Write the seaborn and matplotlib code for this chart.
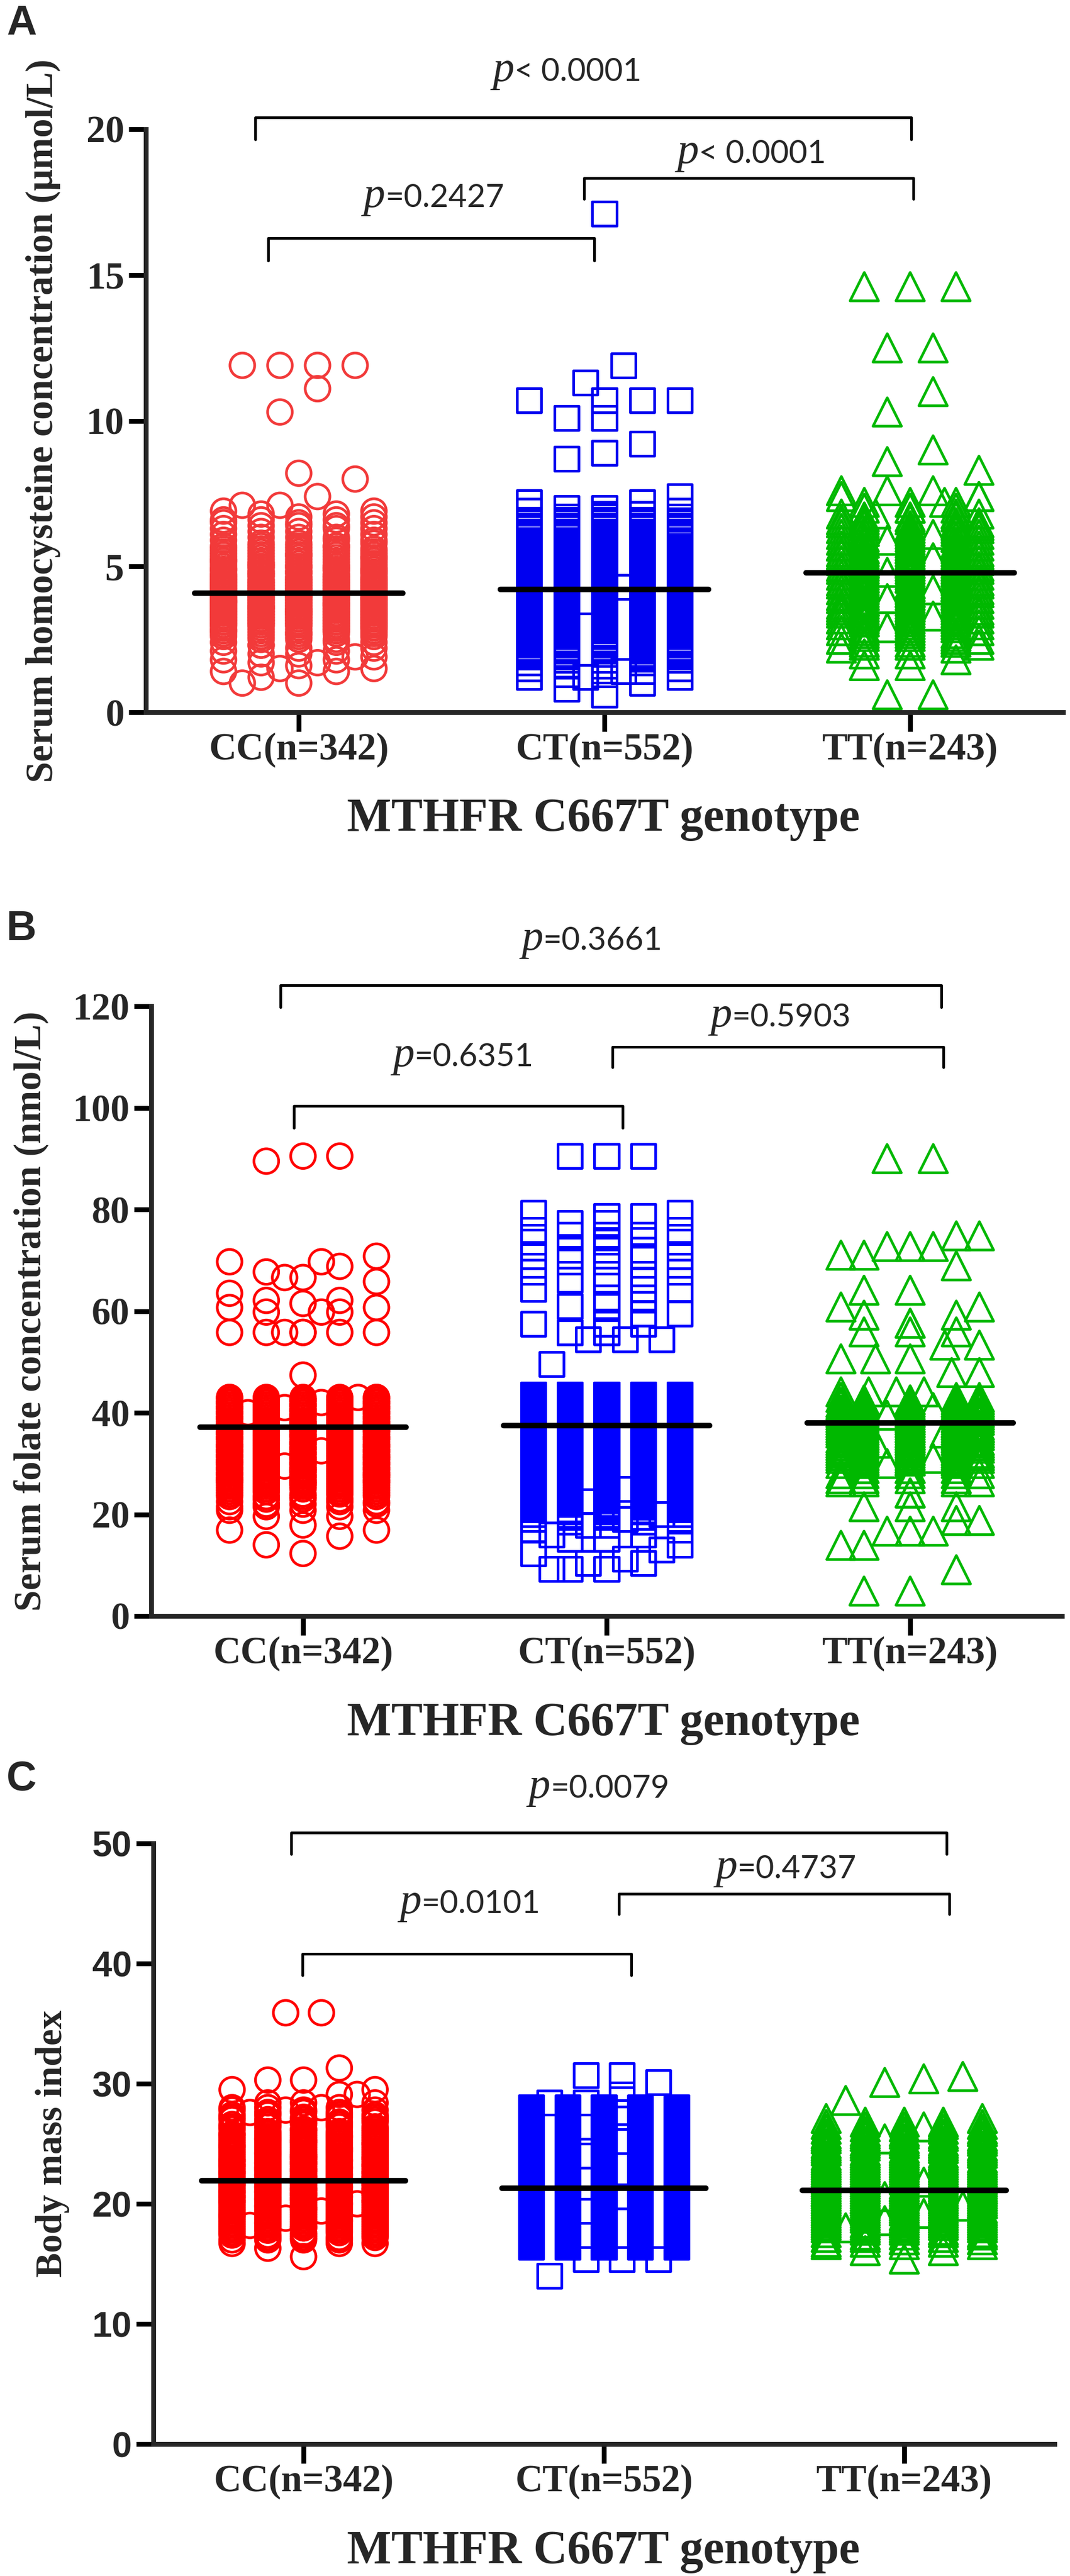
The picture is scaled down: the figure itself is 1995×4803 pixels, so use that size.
import numpy as np
import pandas as pd
import seaborn as sns
import matplotlib
matplotlib.use("Agg")
import matplotlib.pyplot as plt
from matplotlib.transforms import offset_copy

#---------------------------------data
genotypes = ["CC(n=342)", "CT(n=552)", "TT(n=243)"]

# A: serum homocysteine (umol/L) - value levels and number of points at each level
hcy_cc_lv = [11.9, 11.1, 10.3, 8.2, 8.0, 7.4, 7.1, 6.9, 6.8, 6.7, 6.6, 6.5, 6.4, 6.3,
             6.2, 6.1, 6.0, 5.9, 5.8, 5.7, 5.6, 5.5, 5.4, 5.3, 5.2, 5.1, 5.0,
             4.9, 4.8, 4.7, 4.6, 4.5, 4.4, 4.3, 4.2, 4.1, 4.0,
             3.9, 3.8, 3.7, 3.6, 3.5, 3.4, 3.3, 3.2, 3.1, 3.0,
             2.9, 2.8, 2.7, 2.6, 2.5, 2.4, 2.3, 2.2, 2.1, 2.0,
             1.9, 1.8, 1.7, 1.6, 1.5, 1.4, 1.2, 1.0]
hcy_cc_n = [4, 1, 1, 1, 1, 1, 2, 2, 2, 2, 3, 3, 3, 3,
            2, 2, 3, 3, 3, 5, 5, 5, 6, 6, 6, 6, 8,
            8, 8, 8, 9, 10, 10, 10, 10, 11, 11,
            11, 11, 11, 11, 11, 11, 10, 10, 10, 10,
            7, 7, 6, 4, 3, 3, 2, 2, 2, 2,
            2, 2, 2, 1, 2, 2, 1, 2]
hcy_ct_lv = [17.1, 11.9, 11.3, 10.7, 10.1, 9.2, 8.9, 8.7, 7.4, 7.2, 7.0, 6.9, 6.8, 6.7, 6.6,
             6.5, 6.4, 6.3, 6.2, 6.1, 6.0, 5.9, 5.8, 5.7, 5.6, 5.5, 5.4, 5.3, 5.2, 5.1, 5.0,
             4.9, 4.8, 4.7, 4.6, 4.5, 4.4, 4.3, 4.2, 4.1, 4.0,
             3.9, 3.8, 3.7, 3.6, 3.5, 3.4, 3.3, 3.2, 3.1, 3.0,
             2.9, 2.8, 2.7, 2.6, 2.5, 2.4, 2.3, 2.2, 2.1, 2.0, 1.9,
             1.8, 1.7, 1.6, 1.5, 1.4, 1.3, 1.2, 1.0, 0.8, 0.6]
hcy_ct_n = [1, 1, 1, 4, 2, 1, 1, 1, 1, 2, 2, 2, 2, 3, 4,
            5, 5, 6, 8, 8, 8, 9, 9, 9, 9, 9, 11, 11, 11, 11, 10,
            12, 12, 12, 12, 12, 13, 14, 14, 14, 14,
            14, 14, 14, 14, 14, 14, 14, 14, 14, 14,
            12, 12, 12, 10, 10, 10, 9, 7, 6, 5, 4,
            3, 2, 2, 2, 2, 2, 3, 1, 1, 1]
hcy_tt_lv = [14.6, 12.5, 11.0, 10.3, 9.0, 8.6, 8.3, 7.6, 7.4, 7.2, 7.0, 6.8,
             6.7, 6.6, 6.5, 6.4, 6.3, 6.2, 6.1, 6.0, 5.9, 5.8, 5.7, 5.6, 5.5, 5.4, 5.3, 5.2, 5.1, 5.0,
             4.9, 4.8, 4.7, 4.6, 4.5, 4.4, 4.3, 4.2, 4.1, 4.0,
             3.9, 3.8, 3.7, 3.6, 3.5, 3.4, 3.3, 3.2, 3.1, 3.0,
             2.9, 2.8, 2.7, 2.6, 2.5, 2.4, 2.3, 2.2, 2.0, 1.8, 1.6, 0.6]
hcy_tt_n = [3, 2, 1, 1, 1, 1, 1, 3, 3, 4, 4, 4,
            3, 3, 4, 4, 4, 4, 4, 4, 5, 5, 5, 5, 5, 5, 5, 5, 5, 5,
            5, 5, 5, 5, 5, 6, 6, 6, 6, 6,
            5, 5, 5, 5, 5, 5, 5, 5, 4, 4,
            4, 4, 3, 3, 3, 3, 3, 2, 2, 1, 2, 2]
hcy_mean = [4.08, 4.21, 4.78]
hcy_p = ["< 0.0001", "=0.2427", "< 0.0001"]   # CC-TT, CC-CT, CT-TT

# B: serum folate (nmol/L)
fol_cc_lv = [90.5, 89.5, 70.8, 69.7, 68.8, 67.7, 66.6, 65.8, 63.5, 62.1, 61.5, 60.7, 59.8, 55.8, 47.4,
             43.0, 42.5, 42.0, 41.5, 41.0, 40.5, 40.0, 39.5, 39.0, 38.5,
             38.0, 37.5, 37.0, 36.5, 36.0, 35.5, 35.0, 34.5, 34.0, 33.5,
             33.0, 32.5, 32.0, 31.5, 31.0, 30.5, 30.0, 29.5, 29.0, 28.5,
             28.0, 27.5, 27.0, 26.5, 26.0,
             25.5, 25.0, 24.5, 24.0, 23.5, 23.0, 22.5, 22.0, 21.5,
             20.8, 19.6, 17.9, 16.9, 15.7, 14.0, 12.3]
fol_cc_n = [2, 1, 1, 2, 1, 1, 2, 1, 1, 2, 1, 2, 3, 7, 1,
            8, 8, 8, 8, 8, 8, 8, 8, 8, 7,
            7, 7, 7, 7, 7, 7, 7, 7, 7, 7,
            8, 8, 8, 8, 8, 8, 8, 8, 8, 8,
            8, 8, 8, 8, 8,
            5, 5, 4, 4, 4, 3, 3, 3, 3,
            3, 2, 1, 2, 1, 1, 1]
fol_ct_lv = [90.5, 79.3, 78.7, 77.3, 75.9, 75.0, 73.6, 72.0, 70.8, 69.7, 67.7, 66.1, 64.3, 62.6,
             60.9, 59.5, 57.5, 55.8, 54.4, 49.6,
             43.5, 43.0, 42.5, 42.0, 41.5, 41.0, 40.5, 40.0, 39.5, 39.0, 38.5,
             38.0, 37.5, 37.0, 36.5, 36.0, 35.5, 35.0, 34.5, 34.0, 33.5,
             33.0, 32.5, 32.0, 31.5, 31.0, 30.5, 30.0, 29.5, 29.0, 28.5,
             28.0, 27.5, 27.0, 26.5, 26.0, 25.5, 25.0, 24.5, 24.0, 23.5,
             23.0, 22.5, 22.0, 21.5, 21.0, 20.5, 20.0, 19.5, 19.0,
             18.5, 17.9, 16.9, 16.0, 15.1, 14.0, 13.0, 12.3, 11.2, 10.4, 9.2]
fol_ct_n = [3, 2, 2, 2, 2, 3, 3, 3, 3, 3, 2, 3, 3, 2,
            3, 2, 3, 3, 3, 1,
            11, 11, 11, 11, 11, 11, 10, 10, 10, 10, 10,
            11, 11, 11, 11, 11, 11, 11, 11, 11, 11,
            11, 11, 11, 11, 11, 11, 11, 11, 11, 11,
            11, 11, 11, 11, 11, 11, 11, 11, 11, 11,
            6, 5, 5, 4, 4, 3, 3, 3, 3,
            2, 2, 2, 2, 2, 1, 1, 1, 1, 2, 3]
fol_tt_lv = [90.0, 74.8, 72.7, 71.0, 68.9, 64.1, 60.8, 59.2, 57.6, 55.9, 53.3, 50.6, 47.9, 44.1, 43.0,
             42.5, 42.0, 41.5, 41.0, 40.5, 40.0, 39.5, 39.0, 38.5, 38.0,
             37.5, 37.0, 36.5, 36.0, 35.5, 35.0, 34.5, 34.0, 33.5, 33.0,
             32.5, 32.0, 31.5, 31.0, 30.5, 30.0, 29.0, 28.0, 27.0,
             26.4, 24.2, 21.5, 18.8, 16.7, 13.9, 9.1, 4.9]
fol_tt_n = [2, 2, 3, 2, 1, 2, 2, 2, 2, 3, 2, 3, 2, 4, 3,
            6, 6, 6, 6, 6, 7, 7, 7, 7, 7,
            7, 7, 7, 7, 7, 7, 7, 7, 7, 7,
            7, 7, 7, 7, 7, 5, 5, 5, 4,
            4, 2, 3, 2, 3, 2, 1, 2]
fol_mean = [37.1, 37.5, 38.0]
fol_p = ["=0.3661", "=0.6351", "=0.5903"]

# C: body mass index
bmi_cc_lv = [35.9, 31.3, 30.3, 29.5, 29.1, 28.4,
             28.0, 27.8, 27.6, 27.4, 27.2, 27.0, 26.8, 26.6, 26.4, 26.2, 26.0,
             25.8, 25.6, 25.4, 25.2, 25.0, 24.8, 24.6, 24.4, 24.2, 24.0,
             23.8, 23.6, 23.4, 23.2, 23.0, 22.8, 22.6, 22.4, 22.2, 22.0,
             21.8, 21.6, 21.4, 21.2, 21.0, 20.8, 20.6, 20.4, 20.2, 20.0,
             19.8, 19.6, 19.4, 19.2, 19.0, 18.8, 18.6, 18.4, 18.2, 18.0,
             17.8, 17.6, 17.4, 17.2, 17.0, 16.7, 16.3, 15.6]
bmi_cc_n = [2, 1, 2, 2, 2, 3,
            4, 4, 4, 4, 4, 4, 4, 4, 4, 4, 4,
            6, 6, 6, 6, 6, 6, 6, 6, 6, 6,
            7, 7, 7, 7, 7, 7, 7, 7, 7, 7,
            7, 7, 7, 7, 8, 7, 7, 7, 7, 7,
            6, 6, 6, 6, 6, 6, 6, 6, 6, 6,
            4, 4, 4, 4, 4, 3, 1, 1]
bmi_ct_lv = [30.7, 30.1, 29.1, 28.4,
             28.0, 27.8, 27.6, 27.4, 27.2, 27.0, 26.8, 26.6, 26.4, 26.2, 26.0,
             25.8, 25.6, 25.4, 25.2, 25.0, 24.8, 24.6, 24.4, 24.2, 24.0,
             23.8, 23.6, 23.4, 23.2, 23.0, 22.8, 22.6, 22.4, 22.2, 22.0,
             21.8, 21.6, 21.4, 21.2, 21.0, 20.8, 20.6, 20.4, 20.2, 20.0,
             19.8, 19.6, 19.4, 19.2, 19.0, 18.8, 18.6, 18.4, 18.2, 18.0,
             17.8, 17.6, 17.4, 17.2, 17.0, 16.8, 16.6, 16.4, 15.4, 14.0]
bmi_ct_n = [2, 1, 1, 2,
            7, 7, 7, 7, 7, 7, 7, 7, 7, 7, 7,
            9, 9, 9, 9, 9, 9, 9, 9, 9, 9,
            11, 11, 11, 11, 11, 11, 11, 11, 11, 11,
            11, 11, 11, 12, 12, 12, 12, 12, 12, 12,
            10, 10, 10, 10, 10, 10, 10, 10, 10, 10,
            6, 6, 6, 6, 6, 6, 6, 6, 3, 1]
bmi_tt_lv = [30.6, 30.4, 30.1, 28.6, 27.1,
             26.8, 26.6, 26.4, 26.2, 26.0,
             25.8, 25.6, 25.4, 25.2, 25.0, 24.8, 24.6, 24.4, 24.2, 24.0,
             23.8, 23.6, 23.4, 23.2, 23.0, 22.8, 22.6, 22.4, 22.2, 22.0,
             21.8, 21.6, 21.4, 21.2, 21.0, 20.8, 20.6, 20.4, 20.2, 20.0,
             19.8, 19.6, 19.4, 19.2, 19.0, 18.8, 18.6, 18.4, 18.2, 18.0,
             17.8, 17.6, 17.4, 17.2, 17.0, 16.8, 16.6, 16.1, 15.4]
bmi_tt_n = [1, 1, 1, 1, 2,
            3, 3, 3, 3, 3,
            4, 4, 4, 4, 4, 4, 4, 4, 4, 4,
            5, 5, 5, 5, 5, 5, 5, 5, 5, 5,
            5, 5, 6, 6, 6, 6, 6, 6, 6, 6,
            5, 5, 5, 5, 5, 5, 5, 5, 5, 5,
            3, 3, 3, 3, 3, 3, 3, 2, 1]
bmi_mean = [21.9, 21.3, 21.1]
bmi_p = ["=0.0079", "=0.0101", "=0.4737"]

#---------------------------------style
sns.set_style("ticks")
plt.rcParams["font.family"] = ["Liberation Serif", "DejaVu Serif"]

W, H = 1995, 4803
fig = plt.figure(figsize=(W / 100, H / 100), dpi=100)


def fx(px):
    return px / W


def fy(py):
    return 1 - py / H


def rows_layout(vals, binsize, seq, maxw):
    # graphpad style: values close together share a row and are spread sideways,
    # full rows wrap onto the fixed columns, leftovers are centred in the row
    v = np.sort(np.asarray(vals, dtype=float))
    off = np.zeros(len(v))
    m = len(seq)
    i = 0
    while i < len(v):
        j = i
        while j < len(v) and v[j] - v[i] <= binsize + 1e-9:
            j += 1
        k = j - i
        rem = k % m
        pos = iter(np.take(seq, np.arange(k - rem) % m))
        extra = np.arange(rem) - (rem - 1) / 2
        if rem and np.abs(extra).max() > maxw:
            extra = extra * maxw / np.abs(extra).max()
        extra = iter(extra)
        slots = {int((q + 0.5) * k / rem) for q in range(rem)} if rem else set()
        off[i:j] = [next(extra) if q in slots else next(pos) for q in range(k)]
        i = j
    return v, off


seq5 = [0, -1, 1, -2, 2]
seq3 = [0, -1, 1, 0, -1, 1, -1.5, 1.5]
markers = ["o", "s", "^"]
sizes = [1100, 1050, 1450]
p_pairs = []


def panel(rect, groups, means, ymax, yticks, binsize, spacing, seqs, colors,
          brackets, ptexts, pvals, ylab, ylab_x, ylab_size, letter, letter_y,
          xlab_y, ytick_font, ytick_size):
    l, t, r, b = rect
    ax = fig.add_axes([fx(l), fy(b), (r - l) / W, (b - t) / H])
    for i, (lv, n) in enumerate(groups):
        maxw = max(abs(q) for q in seqs[i])
        v, off = rows_layout(np.repeat(lv, n), binsize, seqs[i], maxw)
        df = pd.DataFrame({"pos": i + off * spacing[i], "value": v})
        sns.scatterplot(data=df, x="pos", y="value", marker=markers[i], s=sizes[i],
                        facecolors="none", edgecolor=colors[i], linewidth=3.6,
                        legend=False, ax=ax, clip_on=False, zorder=2)
        ax.plot([i - 0.34, i + 0.34], [means[i], means[i]], color="black", lw=7.5,
                solid_capstyle="round", zorder=3)
    ax.set_xlim(-0.5, 2.5)
    ax.set_ylim(0, ymax)
    ax.set_xlabel("")
    ax.set_ylabel("")
    sns.despine(ax=ax)
    for s in ["left", "bottom"]:
        ax.spines[s].set_linewidth(6.5)
    ax.set_xticks([0, 1, 2])
    ax.set_xticklabels(genotypes, fontsize=51, fontweight="bold", family="Liberation Serif")
    ax.set_yticks(yticks)
    ax.set_yticklabels([str(k) for k in yticks], fontsize=ytick_size, fontweight="bold",
                       family=ytick_font)
    ax.tick_params(axis="x", length=26, width=6.5, pad=1, color="black")
    ax.tick_params(axis="y", length=23, width=6.5, pad=6, color="black")
    # significance brackets
    for x1, x2, yb, yl in brackets:
        ax.plot([x1, x1, x2, x2], [yl, yb, yb, yl], color="black", lw=3.6,
                clip_on=False, solid_joinstyle="round")
    for (xt, yt), pv in zip(ptexts, pvals):
        a = ax.text(xt, yt, "p", fontsize=58, family="Liberation Serif", style="italic",
                    ha="left", va="baseline")
        bb = ax.text(xt, yt, pv, fontsize=43, family="Lato", ha="left", va="baseline")
        p_pairs.append((ax, a, bb))
    fig.text(fx(ylab_x), fy((t + b) / 2), ylab, rotation=90, ha="center", va="center",
             fontsize=ylab_size, fontweight="bold", family="Liberation Serif")
    fig.text(fx(1125), fy(xlab_y), "MTHFR C667T genotype", ha="center", va="center",
             fontsize=63, fontweight="bold", family="Liberation Serif")
    fig.text(fx(12), fy(letter_y), letter, ha="left", va="top", fontsize=56,
             fontweight="bold", family="Liberation Sans")
    return ax


panel((272, 241, 1982, 1328),
      [(hcy_cc_lv, hcy_cc_n), (hcy_ct_lv, hcy_ct_n), (hcy_tt_lv, hcy_tt_n)],
      hcy_mean, 20, [0, 5, 10, 15, 20], 0.9, [0.123, 0.123, 0.15],
      [seq5, seq5, seq3], ["#F23A3A", "#0000F0", "#00B800"],
      [(-0.142, 2.004, 20.4, 19.65), (-0.10, 0.967, 16.27, 15.5), (0.933, 2.01, 18.33, 17.6)],
      [(0.877, 21.66), (0.442, 17.33), (1.481, 18.84)], hcy_p,
      "Serum homocysteine concentration (\u03bcmol/L)", 80, 51, "A", 8, 1528,
      "Liberation Serif", 51)

panel((282, 1876, 1980, 3013),
      [(fol_cc_lv, fol_cc_n), (fol_ct_lv, fol_ct_n), (fol_tt_lv, fol_tt_n)],
      fol_mean, 120, [0, 20, 40, 60, 80, 100, 120], 5.0, [0.121, 0.121, 0.152],
      [seq5, seq5, seq3], ["#FF0000", "#0000FF", "#00B800"],
      [(-0.074, 2.103, 124.1, 119.8), (-0.03, 1.053, 100.4, 96.0), (1.02, 2.11, 112.0, 108.0)],
      [(0.952, 131.1), (0.528, 108.2), (1.573, 116.0)], fol_p,
      "Serum folate concentration (nmol/L)", 58, 51.5, "B", 1696, 3213,
      "Liberation Serif", 51)

panel((286, 3437, 1966, 4557),
      [(bmi_cc_lv, bmi_cc_n), (bmi_ct_lv, bmi_ct_n), (bmi_tt_lv, bmi_tt_n)],
      bmi_mean, 50, [0, 10, 20, 30, 40, 50], 2.2, [0.119, 0.121, 0.13],
      [seq5, seq5, seq5], ["#FF0000", "#0000FF", "#00B800"],
      [(-0.041, 2.141, 50.9, 49.1), (-0.004, 1.091, 40.8, 39.0), (1.05, 2.15, 45.8, 44.1)],
      [(0.984, 53.8), (0.555, 44.2), (1.607, 47.1)], bmi_p,
      "Body mass index", 98, 50, "C", 3281, 4757,
      "Liberation Sans", 48)

# center each "p" + value pair on its anchor
renderer = fig.canvas.get_renderer()
for ax, a, bb in p_pairs:
    wa = a.get_window_extent(renderer).width
    wb = bb.get_window_extent(renderer).width
    shift = -(wa + wb) / 2
    a.set_transform(offset_copy(ax.transData, fig=fig, x=shift, y=0, units="dots"))
    bb.set_transform(offset_copy(ax.transData, fig=fig, x=shift + wa, y=0, units="dots"))

fig.savefig("out.png", dpi=100)
